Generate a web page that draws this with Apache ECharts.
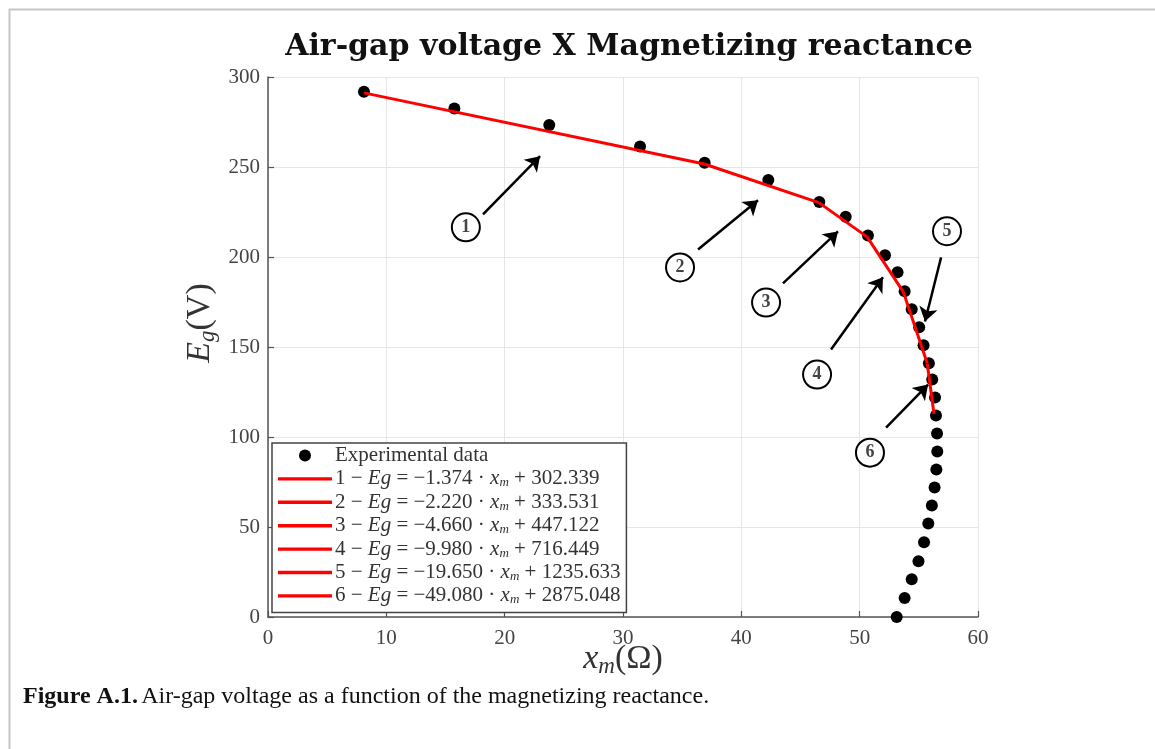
<!DOCTYPE html>
<html>
<head>
<meta charset="utf-8">
<script src="https://cdn.jsdelivr.net/npm/echarts@6.0.0/dist/echarts.min.js"></script>
<style>
  html, body { margin: 0; padding: 0; background: #ffffff; }
  #chart { width: 1155px; height: 749px; }
</style>
</head>
<body>
<div id="chart"></div>
<script>
// Measured magnetizing reactance (ohm) and air-gap voltage (V)
const xm = [53.13, 53.80, 54.40, 54.97, 55.44, 55.80, 56.10, 56.33, 56.48, 56.56,
            56.54, 56.45, 56.37, 56.13, 55.85, 55.40, 55.03, 54.40, 53.80, 53.20,
            52.14, 50.70, 48.82, 46.59, 42.28, 36.90, 31.44, 23.77, 15.75, 8.11];
const eg = [0, 10.5, 21, 31, 41.5, 52, 62, 72, 82, 92,
            102, 112, 122, 132, 141, 151, 161, 171, 181, 191.5,
            201, 212, 222.4, 230.6, 242.8, 252.3, 261.4, 273.3, 282.5, 291.8];

// Piecewise linear fits: Eg = slope * xm + intercept, valid on [fitFrom, fitTo]
const fitSlope = [-1.374, -2.220, -4.660, -9.980, -19.650, -49.080];
const fitIntercept = [302.339, 333.531, 447.122, 716.449, 1235.633, 2875.048];
const fitFrom = [8.11, 36.87, 46.55, 50.63, 53.69, 55.71];
const fitTo = [36.87, 46.55, 50.63, 53.69, 55.71, 56.28];

// Axis ticks
const xTicks = [0, 10, 20, 30, 40, 50, 60];
const yTicks = [0, 50, 100, 150, 200, 250, 300];

// Numbered callouts and their arrows (data coordinates)
const calloutLabels = ['1', '2', '3', '4', '5', '6'];
const calloutAt = [[16.72, 216.5], [34.82, 194.2], [42.09, 174.7], [46.40, 134.7], [57.38, 214.3], [50.87, 91.3]];
const arrowFrom = [[18.17, 223.7], [36.34, 204.2], [43.52, 185.3], [47.58, 148.6], [56.88, 199.8], [52.23, 105.2]];
const arrowTo = [[22.99, 256.0], [41.41, 231.5], [48.17, 214.2], [51.97, 188.7], [55.52, 164.2], [55.78, 129.1]];

const SERIF = '"Liberation Serif", "DejaVu Serif", serif';

const fitNames = fitSlope.map((_, i) => 'fit' + (i + 1));

const fitSeries = fitSlope.map((m, i) => ({
  name: fitNames[i],
  type: 'line',
  symbol: 'none',
  z: 3,
  lineStyle: { color: '#ff0000', width: 3 },
  itemStyle: { color: '#ff0000' },
  data: [fitFrom[i], fitTo[i]].map(x => [x, m * x + fitIntercept[i]])
}));

const axisNameRich = {
  i: { fontFamily: SERIF, fontStyle: 'italic', fontSize: 34, color: '#333', lineHeight: 38 },
  s: { fontFamily: SERIF, fontStyle: 'italic', fontSize: 23, color: '#333', lineHeight: 20, verticalAlign: 'bottom' },
  n: { fontFamily: SERIF, fontSize: 34, color: '#333', lineHeight: 38 }
};

const chart = echarts.init(document.getElementById('chart'), null, { renderer: 'canvas' });

chart.setOption({
  animation: false,
  backgroundColor: '#ffffff',
  title: {
    text: 'Air-gap voltage X Magnetizing reactance',
    left: 624,
    top: 27,
    textAlign: 'center',
    textStyle: { fontFamily: '"DejaVu Serif", serif', fontWeight: 'bold', fontSize: 30, color: '#111' }
  },
  grid: { left: 268, right: 177, top: 77, bottom: 132, containLabel: false },
  xAxis: {
    type: 'value', min: 0, max: 60, interval: 10,
    name: '{i|x}{s|m}{n|(Ω)}',
    nameLocation: 'middle',
    nameGap: 23,
    nameMoveOverlap: false,
    nameTextStyle: { rich: axisNameRich },
    axisLine: { show: true, lineStyle: { color: '#555', width: 1.5 } },
    axisTick: { show: true, inside: true, length: 6, lineStyle: { color: '#555', width: 1.2 } },
    axisLabel: {
      margin: 11, fontFamily: SERIF, fontSize: 21, color: '#444',
      formatter: v => (xTicks.includes(v) ? String(v) : '')
    },
    splitLine: { show: true, lineStyle: { color: '#e6e6e6', width: 1 } }
  },
  yAxis: {
    type: 'value', min: 0, max: 300, interval: 50,
    name: '{i|E}{s|g}{n|(V)}',
    nameLocation: 'middle',
    nameGap: 49,
    nameMoveOverlap: false,
    nameTextStyle: { rich: axisNameRich, padding: [0, 0, 0, 48] },
    axisLine: { show: true, lineStyle: { color: '#555', width: 1.5 } },
    axisTick: { show: true, inside: true, length: 6, lineStyle: { color: '#555', width: 1.2 } },
    axisLabel: {
      margin: 8, fontFamily: SERIF, fontSize: 21, color: '#444',
      formatter: v => (yTicks.includes(v) ? String(v) : '')
    },
    splitLine: { show: true, lineStyle: { color: '#e6e6e6', width: 1 } }
  },
  legend: {
    orient: 'vertical',
    left: 272,
    top: 443,
    padding: [2, 6, 6, 6],
    itemWidth: 54,
    itemHeight: 12,
    itemGap: 2.4,
    backgroundColor: '#ffffff',
    borderColor: '#444',
    borderWidth: 1.5,
    borderRadius: 0,
    data: [
      { name: 'Experimental data', icon: 'circle' },
      ...fitNames.map(n => ({ name: n, icon: 'path://M0,0M0,12M0,4.3H54V7.7H0Z' }))
    ],
    formatter: name => {
      if (name === 'Experimental data') return '{t|Experimental data}';
      const k = fitNames.indexOf(name);
      const m = Math.abs(fitSlope[k]).toFixed(3);
      const b = fitIntercept[k].toFixed(3);
      return '{t|' + (k + 1) + ' − }{i|Eg}{t| = −' + m + ' · }{i|x}{s|m}{t| + ' + b + '}';
    },
    textStyle: {
      padding: [0, 0, 0, -2],
      rich: {
        t: { fontFamily: SERIF, fontSize: 21, color: '#333', lineHeight: 21 },
        i: { fontFamily: SERIF, fontStyle: 'italic', fontSize: 21, color: '#333', lineHeight: 21 },
        s: { fontFamily: SERIF, fontStyle: 'italic', fontSize: 13, color: '#333', lineHeight: 9, verticalAlign: 'bottom' }
      }
    }
  },
  series: [
    {
      name: 'Experimental data',
      type: 'scatter',
      symbol: 'circle',
      symbolSize: 12,
      z: 2,
      itemStyle: { color: '#000000', opacity: 1 },
      data: xm.map((x, i) => [x, eg[i]]),
      markLine: {
        silent: true,
        symbol: ['none', 'arrow'],
        symbolSize: 14,
        label: { show: false },
        lineStyle: { color: '#000', width: 2.5, type: 'solid' },
        data: arrowFrom.map((p, i) => [{ coord: p }, { coord: arrowTo[i] }])
      },
      markPoint: {
        silent: true,
        symbol: 'circle',
        symbolSize: 28,
        itemStyle: { color: '#ffffff', borderColor: '#000000', borderWidth: 2 },
        label: {
          show: true, position: 'inside', color: '#444',
          fontFamily: SERIF, fontWeight: 'bold', fontSize: 18
        },
        data: calloutAt.map((p, i) => ({ coord: p, value: calloutLabels[i], label: { formatter: calloutLabels[i] } }))
      }
    },
    ...fitSeries
  ],
  graphic: [
    {
      type: 'rect',
      silent: true,
      shape: { x: 9.5, y: 9.5, width: 1400, height: 1000 },
      style: { fill: 'none', stroke: '#c6c6c6', lineWidth: 2 }
    },
    {
      type: 'text',
      left: 23,
      top: 685,
      silent: true,
      style: {
        text: '{b|Figure A.1.} {r|Air-gap voltage as a function of the magnetizing reactance.}',
        rich: {
          b: { fontFamily: SERIF, fontWeight: 'bold', fontSize: 24, fill: '#111' },
          r: { fontFamily: SERIF, fontSize: 24, fill: '#111' }
        }
      }
    }
  ]
});
</script>
</body>
</html>
